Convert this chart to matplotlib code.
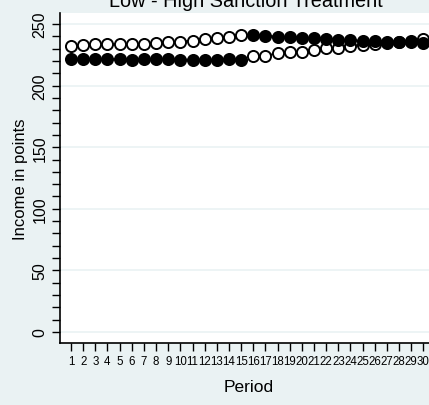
import matplotlib
matplotlib.use("Agg")
import matplotlib.pyplot as plt
from matplotlib.ticker import MultipleLocator

plt.rcParams['font.family'] = ['Liberation Sans', 'DejaVu Sans']

periods_a = list(range(1, 16))
periods_b = list(range(16, 31))

# Periods 1-15
open_a = [232.4, 233.0, 233.5, 233.5, 233.5, 233.5, 233.5, 234.3, 235.4, 235.7, 236.5, 238.1, 238.9, 239.7, 241.1]
filled_a = [221.8, 221.6, 221.6, 221.4, 221.4, 221.1, 221.4, 221.4, 221.4, 221.1, 221.1, 221.1, 220.9, 221.4, 221.1]
# Periods 16-30
open_b = [223.8, 224.3, 226.2, 227.5, 227.5, 228.6, 230.3, 230.8, 232.4, 233.0, 233.5, 234.3, 235.4, 236.5, 237.8]
filled_b = [241.1, 240.6, 239.7, 239.4, 238.9, 238.6, 238.1, 237.3, 236.7, 236.5, 236.2, 235.7, 235.4, 235.2, 234.8]

yticks = [0, 50, 100, 150, 200, 250]
xticks = list(range(1, 31))

W, H = 429, 406
fig = plt.figure(figsize=(W / 100, H / 100), dpi=100)
bg = '#EAF2F3'
fig.patch.set_facecolor(bg)
ax = fig.add_axes([60 / W, 1 - 344 / H, 1 - 60 / W, (344 - 14) / H])
ax.set_facecolor('white')

for y in yticks:
    ax.axhline(y, color=bg, lw=1.2, zorder=0)

ms = 8.0
for xs, ys in [(periods_a, open_a), (periods_b, open_b)]:
    ax.plot(xs, ys, color='black', lw=1.3, marker='o', ms=ms, mfc='white',
            mec='black', mew=1.4, zorder=3)
for xs, ys in [(periods_a, filled_a), (periods_b, filled_b)]:
    ax.plot(xs, ys, color='black', lw=1.3, marker='o', ms=ms, mfc='black',
            mec='black', mew=1.4, zorder=3)

ax.set_xlim(0.095, 30.46)
ax.set_ylim(-8.9, 258.9)

ax.set_yticks(yticks)
ax.set_yticklabels([str(v) for v in yticks], rotation=90, va='center', fontsize=11.5)
ax.yaxis.set_minor_locator(MultipleLocator(10))
ax.set_xticks(xticks)
ax.set_xticklabels([str(v) for v in xticks], fontsize=8.3)

ax.tick_params(axis='y', which='major', length=6, width=1, pad=3)
ax.tick_params(axis='y', which='minor', length=6, width=1)
ax.tick_params(axis='x', which='major', length=6, width=1, pad=3)

for s in ['top', 'right']:
    ax.spines[s].set_visible(False)
for s in ['left', 'bottom']:
    ax.spines[s].set_linewidth(1.2)

ax.set_ylabel('Income in points', fontsize=12, labelpad=3)
fig.text(249 / W, 1 - 392 / H, 'Period', fontsize=12.5, ha='center', va='baseline')
fig.text(246 / W, 1 - 7 / H, 'Low - High Sanction Treatment', fontsize=14.3,
         ha='center', va='baseline')

fig.savefig('out.png', dpi=100, facecolor=bg)
